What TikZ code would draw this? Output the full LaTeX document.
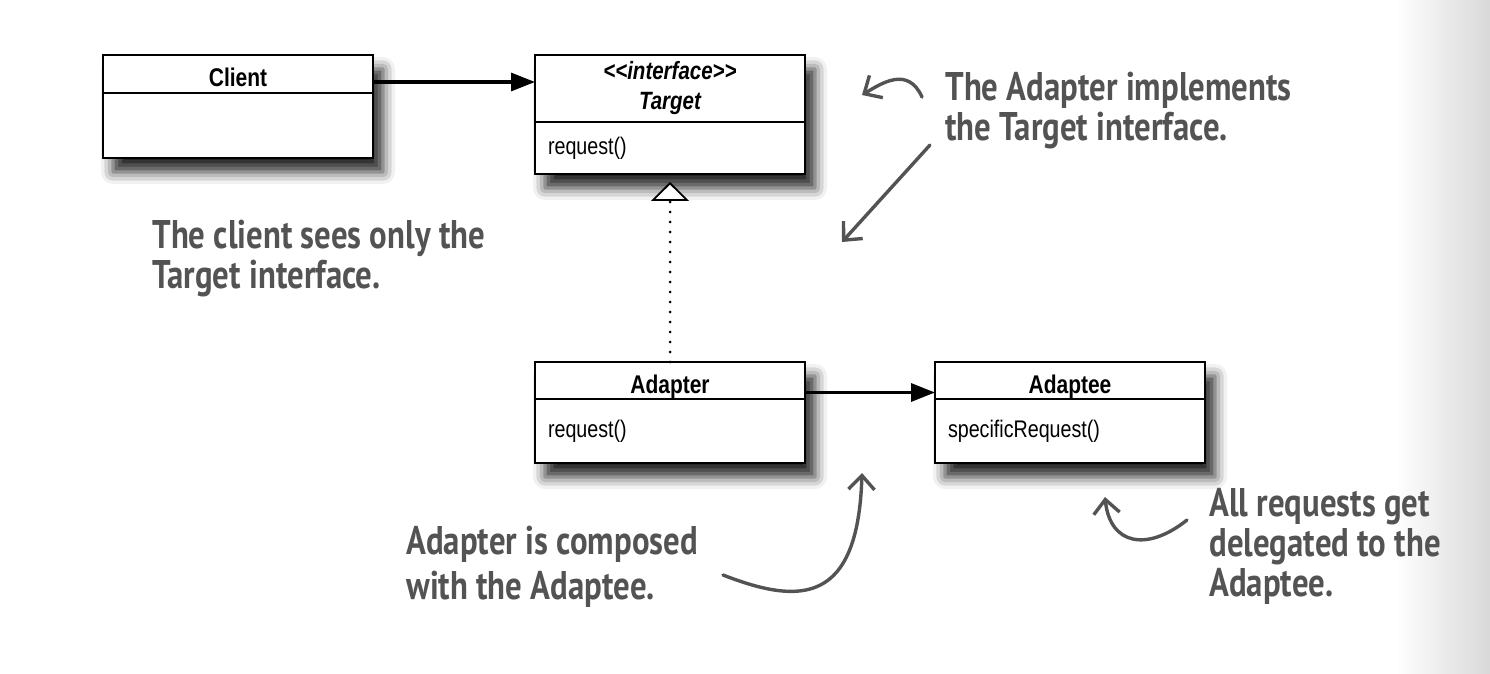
\documentclass[tikz,border=0pt]{standalone}
\usepackage{fontspec}
\setmainfont{Liberation Sans}[FakeStretch=0.82]
\newfontfamily\handfont{PT Sans}[FakeStretch=0.82]
\usetikzlibrary{arrows.meta,positioning,shadows.blur,backgrounds}
\definecolor{handgray}{HTML}{535353}

\begin{document}
\begin{tikzpicture}[
    x=0.5pt, y=-0.5pt,
    classname/.style={draw,line width=0.8pt,fill=white,minimum width=135pt,inner sep=0pt,outer sep=0pt,
      font=\fontsize{12.8}{15}\selectfont\bfseries},
    lowname/.style={text height=13pt,text depth=0pt},
    classbody/.style={draw,line width=0.8pt,fill=white,text width=122pt,inner xsep=6.5pt,inner ysep=0pt,outer sep=0pt,
      align=left,font=\fontsize{12}{14}\selectfont},
    boxshadow/.style={fill=white,blur shadow={shadow xshift=5pt,shadow yshift=-7pt,shadow blur radius=6pt,shadow opacity=85}},
    assoc/.style={line width=1.6pt,-{Triangle[length=12pt,width=9pt]}},
    realize/.style={line width=1.5pt,line cap=round,dash pattern=on 0pt off 5pt,
      -{Triangle[open,length=9.5pt,width=19pt,line width=0.9pt,fill=white]}},
    note/.style={font=\handfont\bfseries\fontsize{20}{20}\selectfont,text=handgray,align=left,inner sep=0pt,anchor=north west},
    hand/.style={draw=handgray,line width=1.7pt,line cap=round,line join=round,-{Straight Barb[length=7pt,width=13pt]}}
  ]
    \useasboundingbox (0,0) rectangle (1490,674);
    % page edge
    \shade[left color=white,right color=gray!30] (1395,0) rectangle (1490,674);

    % Classes
    \node[classname,lowname,minimum height=19pt,anchor=north west] (client) at (103,55) {Client};
    \node[classbody,minimum height=32.5pt,below=0pt of client] (client-body) {};

    \node[classname,minimum height=33.5pt,anchor=north west,align=center,
      font=\fontsize{12.5}{15}\selectfont\bfseries\itshape] (target) at (535,55)
      {<\kern0pt<interface>\kern0pt>\\Target};
    \node[classbody,minimum height=26pt,below=0pt of target] (target-body) {request()};

    \node[classname,lowname,minimum height=18.5pt,anchor=north west] (adapter) at (535,362) {Adapter};
    \node[classbody,minimum height=32pt,below=0pt of adapter] (adapter-body) {request()};

    \node[classname,lowname,minimum height=18.5pt,anchor=north west] (adaptee) at (935,362) {Adaptee};
    \node[classbody,minimum height=32pt,below=0pt of adaptee] (adaptee-body) {specificRequest()};

    % Connectors
    \coordinate (client out) at ([yshift=-4pt]client.east);
    \draw[assoc] (client out) -- (client out -| target.west);
    \coordinate (adapter out) at ([yshift=-6pt]adapter.east);
    \draw[assoc] (adapter out) -- (adapter out -| adaptee.west);
    \draw[realize] (adapter.north) -- ([yshift=-4pt]target-body.south);

    % Notes
    \node[note] (client note) at (152,220) {The client sees only the\\Target interface.};
    \node[note] (impl note) at (945,72) {The Adapter implements\\the Target interface.};
    \node[note,font=\handfont\bfseries\fontsize{20}{22.5}\selectfont] (comp note) at (406,526) {Adapter is composed\\with the Adaptee.};
    \node[note] (deleg note) at (1209,488) {All requests get\\delegated to the\\Adaptee.};

    % Note arrows
    \coordinate (impl tip a) at (862,95);
    \coordinate (impl tip b) at (842,242);
    \coordinate (comp tip) at (862,473);
    \coordinate (deleg tip) at (1105,497);
    \draw[hand] ([shift={(-23,25)}]impl note.north west) .. controls +(-14,-31) and +(20,-12) .. (impl tip a);
    \draw[hand] ([shift={(-15,73)}]impl note.north west) -- (impl tip b);
    \draw[hand] ([shift={(317,49)}]comp note.north west) .. controls +(77,30) and +(-4,132) .. (comp tip);
    \draw[hand] ([shift={(-22,32)}]deleg note.north west) .. controls +(-40,32) and +(5,48) .. (deleg tip);

    % one soft shadow behind each class
    \begin{pgfonlayer}{background}
      \foreach \c in {client,target,adapter,adaptee}
        \path[boxshadow] (\c.north west) rectangle (\c-body.south east);
    \end{pgfonlayer}
\end{tikzpicture}
\end{document}
